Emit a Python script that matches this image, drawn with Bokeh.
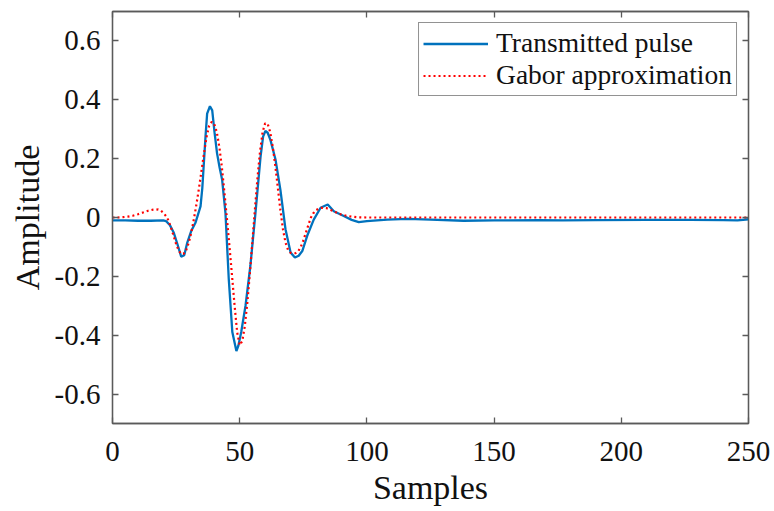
from bokeh.plotting import figure
from bokeh.models import FixedTicker, LinearAxis, Range1d, Legend, LegendItem
from bokeh.embed import file_html
from bokeh.resources import INLINE

# ---- data ----
pulse_x = [0, 5, 10, 15, 20, 21, 22.5, 24.1, 25.5, 27, 28.2, 29.4, 31, 32.6, 34.6, 35.3, 35.9,
           36.6, 37.2, 38.3, 39.2, 40.1, 41.1, 42.1, 43.1, 44.4, 45.7, 47.1, 48.7, 49.5, 50.6,
           52.3, 54.2, 56.2, 58.2, 59.2, 60.1, 61.0, 62.1, 64.1, 66.0, 68.0, 70.0, 71.7, 73.2,
           74.6, 76.5, 79.1, 81.8, 84.6, 87.0, 90.9, 94, 96.8, 100, 108, 116, 125, 138, 150,
           168, 177, 190, 210, 227, 240, 245.7, 250]
pulse_y = [-0.010, -0.010, -0.011, -0.011, -0.010, -0.012, -0.025, -0.052, -0.090, -0.133,
           -0.128, -0.085, -0.045, -0.018, 0.038, 0.100, 0.184, 0.280, 0.353, 0.378, 0.364,
           0.290, 0.218, 0.170, 0.128, 0.016, -0.209, -0.389, -0.454, -0.435, -0.389, -0.299,
           -0.164, 0.016, 0.207, 0.275, 0.294, 0.288, 0.263, 0.196, 0.094, -0.040, -0.119,
           -0.136, -0.130, -0.114, -0.063, -0.007, 0.033, 0.044, 0.021, 0.005, -0.008, -0.016,
           -0.012, -0.007, -0.005, -0.007, -0.011, -0.010, -0.009, -0.010, -0.009, -0.008,
           -0.008, -0.009, -0.010, -0.006]

gabor_x = [0, 2, 4, 6, 8, 10, 12, 14, 16, 17, 18, 19, 20, 21, 22, 23, 24, 25, 26, 27, 28, 29,
           30, 31, 32, 33, 34, 35, 36, 37, 38, 39, 40, 41, 42, 43, 44, 45, 46, 47, 48, 49, 50,
           51, 52, 53, 54, 55, 56, 57, 58, 59, 60, 61, 62, 63, 64, 65, 66, 67, 68, 69, 70, 71,
           72, 73, 74, 75, 76, 77, 78, 79, 80, 81, 82, 83, 84, 85, 86, 87, 88, 89, 90, 92, 94,
           96, 100, 250]
gabor_y = [0.000, 0.000, 0.001, 0.003, 0.006, 0.011, 0.017, 0.023, 0.027, 0.028, 0.027, 0.023,
           0.016, 0.005, -0.010, -0.035, -0.062, -0.090, -0.112, -0.124, -0.123, -0.110,
           -0.085, -0.050, -0.005, 0.045, 0.100, 0.160, 0.220, 0.275, 0.312, 0.325, 0.318,
           0.290, 0.240, 0.170, 0.085, -0.005, -0.100, -0.200, -0.300, -0.390, -0.434, -0.420,
           -0.370, -0.290, -0.190, -0.080, 0.030, 0.135, 0.225, 0.290, 0.320, 0.318, 0.290,
           0.240, 0.175, 0.100, 0.025, -0.040, -0.085, -0.110, -0.120, -0.122, -0.121, -0.115,
           -0.100, -0.078, -0.052, -0.025, 0.000, 0.015, 0.025, 0.030, 0.033, 0.033, 0.032,
           0.029, 0.025, 0.021, 0.017, 0.013, 0.010, 0.006, 0.003, 0.001, 0.000, 0.000]

x_ticks = [0, 50, 100, 150, 200, 250]
x_tick_labels = ["0", "50", "100", "150", "200", "250"]
y_ticks = [-0.6, -0.4, -0.2, 0, 0.2, 0.4, 0.6]
y_tick_labels = ["-0.6", "-0.4", "-0.2", "0", "0.2", "0.4", "0.6"]

FONT = "Liberation Serif"
AX = "#5a5a5a"

p = figure(output_backend="svg", toolbar_location=None,
           x_range=Range1d(0, 250), y_range=Range1d(-0.7, 0.7),
           frame_width=636, frame_height=412,
           min_border_left=112, min_border_right=26, min_border_top=11, min_border_bottom=88)
p.grid.visible = False
p.background_fill_color = "white"
p.border_fill_color = "white"
p.outline_line_color = AX
p.outline_line_width = 1.3

r_pulse = p.line(pulse_x, pulse_y, line_color="#0072BD", line_width=2.3)
r_gabor = p.line(gabor_x, gabor_y, line_color="#FF0000", line_width=2.2, line_dash="2 3")


def style_axis(ax, ticks, labels, show_labels=True, standoff=12):
    ax.ticker = FixedTicker(ticks=ticks)
    ax.major_label_overrides = {t: l for t, l in zip(ticks, labels)}
    ax.minor_tick_line_color = None
    ax.major_tick_in = 6
    ax.major_tick_out = 0
    ax.axis_line_color = AX
    ax.axis_line_width = 1.3
    ax.major_tick_line_color = AX
    ax.major_tick_line_width = 1.3
    ax.major_label_text_font = FONT
    ax.major_label_text_color = "#111111"
    if show_labels:
        ax.major_label_text_font_size = "29px"
        ax.major_label_standoff = standoff
    else:
        ax.major_label_text_font_size = "0px"
        ax.major_label_standoff = 0
        ax.major_label_text_alpha = 0


xa = p.xaxis[0]
ya = p.yaxis[0]
style_axis(xa, x_ticks, x_tick_labels, standoff=18)
style_axis(ya, y_ticks, y_tick_labels, standoff=12)
xa.axis_label = "Samples"
ya.axis_label = "Amplitude"
for a in (xa, ya):
    a.axis_label_text_font = FONT
    a.axis_label_text_font_size = "34px"
    a.axis_label_text_font_style = "normal"
    a.axis_label_text_color = "#111111"
xa.axis_label_standoff = 5
ya.axis_label_standoff = 6

top = LinearAxis()
right = LinearAxis()
style_axis(top, x_ticks, x_tick_labels, show_labels=False)
style_axis(right, y_ticks, y_tick_labels, show_labels=False)
p.add_layout(top, "above")
p.add_layout(right, "right")

legend = Legend(items=[LegendItem(label="Transmitted pulse", renderers=[r_pulse]),
                       LegendItem(label="Gabor approximation", renderers=[r_gabor])],
                location="top_right", margin=11)
legend.label_text_font = FONT
legend.label_text_font_size = "27.5px"
legend.label_text_line_height = 1.0
legend.label_text_color = "#111111"
legend.glyph_width = 65
legend.glyph_height = 29
legend.label_height = 29
legend.label_standoff = 8
legend.padding = 4
legend.spacing = 0
legend.border_line_color = "#262626"
legend.border_line_width = 1
legend.background_fill_color = "white"
legend.background_fill_alpha = 1
p.add_layout(legend)

open("out.html", "w").write(file_html(p, INLINE))
